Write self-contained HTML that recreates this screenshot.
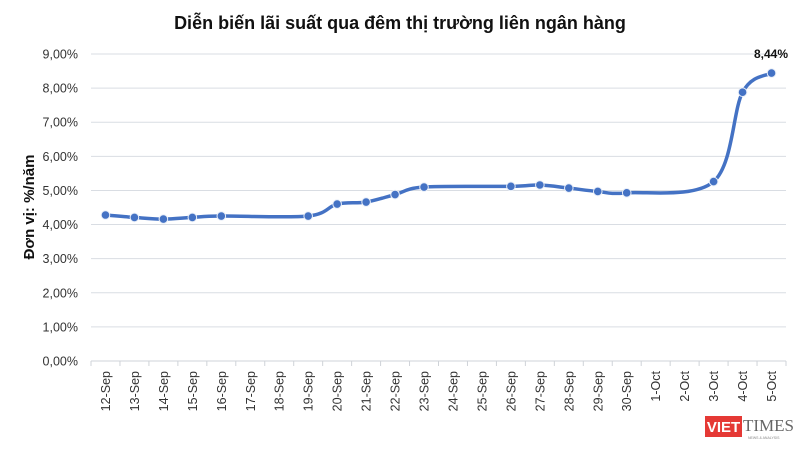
<!DOCTYPE html>
<html><head><meta charset="utf-8"><style>
body{margin:0;background:#fff;width:800px;height:450px;overflow:hidden}
svg text{font-family:"Liberation Sans",sans-serif}
</style></head><body>
<svg id="s" width="800" height="450" xmlns="http://www.w3.org/2000/svg">
<text x="400" y="29" text-anchor="middle" font-size="18" font-weight="bold" fill="#111">Diễn biến lãi suất qua đêm thị trường liên ngân hàng</text>
<text transform="translate(34,207) rotate(-90)" text-anchor="middle" font-size="15" font-weight="bold" fill="#111">Đơn vị: %/năm</text>
<g id="grid"></g><g id="ax"></g>
<path id="line" fill="none" stroke="#4472C4" stroke-width="3.5" stroke-linecap="round"/>
<g id="pts"></g>
<text x="771" y="58" text-anchor="middle" font-size="12" font-weight="bold" fill="#111">8,44%</text>
<rect x="705" y="416" width="37" height="21" fill="#e53935"/>
<text x="723.5" y="432" text-anchor="middle" font-size="15" font-weight="bold" fill="#fff">VIET</text>
<text x="743" y="431" font-family="Liberation Serif" font-size="17" fill="#666" style="font-family:'Liberation Serif',serif">TIMES</text>
<text x="748" y="439" font-size="3.5" fill="#888">NEWS &amp; ANALYSIS</text>
</svg>
<script>
var NS="http://www.w3.org/2000/svg";
function el(t,a,p,txt){var e=document.createElementNS(NS,t);for(var k in a)e.setAttribute(k,a[k]);if(txt)e.textContent=txt;document.getElementById(p).appendChild(e);return e;}
var X0=91,X1=786,W=(X1-X0)/24;
function Y(v){return 361-34.11*v;}
for(var i=0;i<=9;i++){var y=Y(i);
 if(i>0)el('line',{x1:X0,x2:X1,y1:y,y2:y,stroke:'#d9dde3','stroke-width':1},'grid');
 el('text',{x:78,y:y+4.5,'text-anchor':'end','font-size':12.5,fill:'#333'},'ax',i+',00%');}
el('line',{x1:X0,x2:X1,y1:361,y2:361,stroke:'#cfd3d8','stroke-width':1},'ax');
var labels=['12-Sep','13-Sep','14-Sep','15-Sep','16-Sep','17-Sep','18-Sep','19-Sep','20-Sep','21-Sep','22-Sep','23-Sep','24-Sep','25-Sep','26-Sep','27-Sep','28-Sep','29-Sep','30-Sep','1-Oct','2-Oct','3-Oct','4-Oct','5-Oct'];
for(var i=0;i<=24;i++)el('line',{x1:X0+i*W,x2:X0+i*W,y1:361,y2:366,stroke:'#cfd3d8'},'ax');
labels.forEach(function(l,i){var x=X0+W/2+W*i;
 el('text',{transform:'translate('+(x+4.5)+',371) rotate(-90)','text-anchor':'end','font-size':12.5,fill:'#333'},'ax',l);});
var d=[[0,4.28],[1,4.21],[2,4.16],[3,4.21],[4,4.25],[7,4.25],[8,4.60],[9,4.66],[10,4.88],[11,5.10],[14,5.12],[15,5.16],[16,5.07],[17,4.97],[18,4.93],[21,5.26],[22,7.88],[23,8.44]];
var p=d.map(function(q){return [X0+W/2+W*q[0],Y(q[1])];});
var s='M'+p[0][0]+','+p[0][1];
for(var i=0;i<p.length-1;i++){var a=p[i-1]||p[i],b=p[i],c=p[i+1],e=p[i+2]||c,t=1/6;
 s+=' C'+(b[0]+(c[0]-a[0])*t)+','+(b[1]+(c[1]-a[1])*t)+' '+(c[0]-(e[0]-b[0])*t)+','+(c[1]-(e[1]-b[1])*t)+' '+c[0]+','+c[1];}
document.getElementById('line').setAttribute('d',s);
p.forEach(function(q){el('circle',{cx:q[0],cy:q[1],r:4.3,fill:'#4472C4',stroke:'#e8eef8','stroke-width':1},'pts');});
</script>
</body></html>
